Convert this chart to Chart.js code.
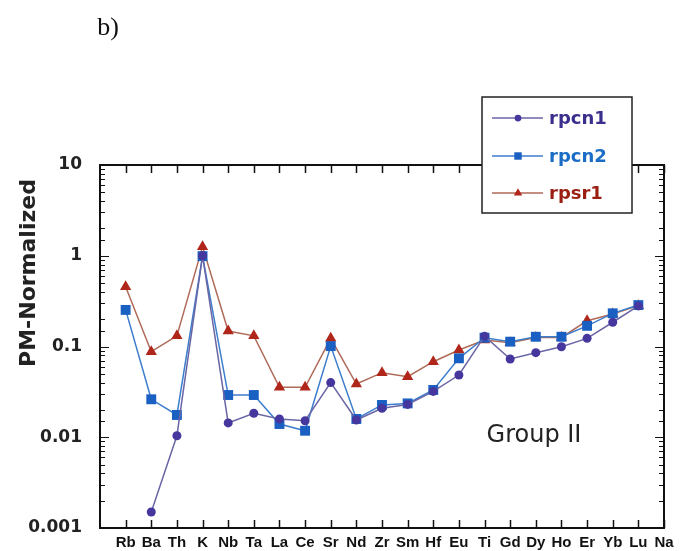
<!DOCTYPE html>
<html>
<head>
<meta charset="utf-8">
<script src="https://cdn.jsdelivr.net/npm/chart.js@4/dist/chart.umd.min.js"></script>
<style>
  html, body { margin: 0; padding: 0; background: #fff; }
  #wrap { width: 681px; height: 551px; }
</style>
</head>
<body>
<div id="wrap"><canvas id="spider"></canvas></div>
<script>
// element order along the x axis (Na sits on the right frame)
const elements = ["Rb", "Ba", "Th", "K", "Nb", "Ta", "La", "Ce", "Sr", "Nd", "Zr",
  "Sm", "Hf", "Eu", "Ti", "Gd", "Dy", "Ho", "Er", "Yb", "Lu", "Na"];

const rpcn1 = [null, 0.0015, 0.0104, 1.0, 0.0144, 0.0184, 0.0159, 0.0152, 0.040, 0.0155, 0.0209,
  0.023, 0.032, 0.0485, 0.13, 0.0728, 0.0855, 0.0995, 0.123, 0.185, 0.28, null];
const rpcn2 = [0.253, 0.0262, 0.0176, 0.99, 0.0292, 0.0292, 0.014, 0.0118, 0.101, 0.0159, 0.0227,
  0.0236, 0.0332, 0.0741, 0.125, 0.113, 0.128, 0.128, 0.169, 0.232, 0.286, null];
const rpsr1 = [0.456, 0.0877, 0.131, 1.26, 0.148, 0.131, 0.0355, 0.0355, 0.123, 0.0386, 0.0515,
  0.0464, 0.068, 0.0914, 0.118, 0.110, 0.126, 0.126, 0.192, 0.228, 0.282, null];

const seriesNames = ["rpcn1", "rpcn2", "rpsr1"];
const yTickLabels = { "-3": "0.001", "-2": "0.01", "-1": "0.1", "0": "1", "1": "10" };

const toPoints = arr => arr.map((v, i) => ({ x: i, y: v }));

const lineCol = ["#6a66a6", "#3c7dcc", "#b06a58"];
const markCol = ["#46379e", "#1a5fc2", "#b0261a"];
const textCol = ["#3a2f8c", "#1a6cc4", "#9a1f12"];

// frame, inward ticks, legend box and free text
const decor = {
  id: "decor",
  afterDraw(chart) {
    const ctx = chart.ctx;
    const a = chart.chartArea;
    const xs = chart.scales.x, ys = chart.scales.y;
    ctx.save();
    ctx.strokeStyle = "#111";
    ctx.lineWidth = 1.5;

    // x ticks, top and bottom, pointing inward
    for (let i = 0; i < elements.length; i++) {
      const px = Math.round(xs.getPixelForValue(i)) + 0.5;
      ctx.beginPath();
      ctx.moveTo(px, a.bottom); ctx.lineTo(px, a.bottom - 8);
      ctx.moveTo(px, a.top); ctx.lineTo(px, a.top + 8);
      ctx.stroke();
    }
    // y ticks on both sides, major longer than minor
    ctx.lineWidth = 1;
    ys.ticks.forEach(t => {
      const lg = Math.log10(t.value);
      const major = Math.abs(lg - Math.round(lg)) < 1e-6;
      const len = major ? 9 : 5;
      const py = Math.round(ys.getPixelForValue(t.value)) + 0.5;
      ctx.beginPath();
      ctx.moveTo(a.left, py); ctx.lineTo(a.left + len, py);
      ctx.moveTo(a.right, py); ctx.lineTo(a.right - len, py);
      ctx.stroke();
    });
    // frame
    ctx.lineWidth = 2;
    ctx.strokeRect(a.left, a.top, a.right - a.left, a.bottom - a.top);

    // legend box
    const bx = 482, by = 97, bw = 150, bh = 116;
    ctx.fillStyle = "#fff";
    ctx.fillRect(bx, by, bw, bh);
    ctx.lineWidth = 1.5;
    ctx.strokeStyle = "#222";
    ctx.strokeRect(bx, by, bw, bh);
    const rows = [118, 156, 193];
    chart.data.datasets.forEach((ds, i) => {
      const y = rows[i];
      ctx.strokeStyle = ds.borderColor;
      ctx.lineWidth = 1.5;
      ctx.beginPath();
      ctx.moveTo(492, y); ctx.lineTo(543, y);
      ctx.stroke();
      ctx.fillStyle = ds.pointBackgroundColor;
      ctx.strokeStyle = ds.pointBorderColor;
      Chart.helpers.drawPoint(ctx, { pointStyle: ds.pointStyle, radius: ds.pointRadius * 0.75, rotation: 0, borderWidth: 0 }, 518, y);
      ctx.fillStyle = textCol[i];
      ctx.font = "bold 18px 'DejaVu Sans'";
      ctx.textAlign = "left";
      ctx.textBaseline = "middle";
      ctx.fillText(ds.label, 549, y + 1);
    });

    // axis title
    ctx.save();
    ctx.translate(29, 273);
    ctx.rotate(-Math.PI / 2);
    ctx.fillStyle = "#222";
    ctx.font = "bold 22px 'DejaVu Sans'";
    ctx.textAlign = "center";
    ctx.textBaseline = "middle";
    ctx.fillText("PM-Normalized", 0, 0);
    ctx.restore();

    // annotation and panel letter
    ctx.fillStyle = "#222";
    ctx.font = "24px 'DejaVu Sans'";
    ctx.textAlign = "center";
    ctx.textBaseline = "middle";
    ctx.fillText("Group II", 534, 436);
    ctx.fillStyle = "#111";
    ctx.font = "26px 'Liberation Serif'";
    ctx.fillText("b)", 108, 28);
    ctx.restore();
  }
};

const styles = ["circle", "rect", "triangle"];
const radii = [4.5, 7, 6.5];

new Chart(document.getElementById("spider"), {
  type: "line",
  data: {
    datasets: [rpcn1, rpcn2, rpsr1].map((vals, i) => ({
      label: seriesNames[i],
      data: toPoints(vals),
      borderColor: lineCol[i],
      borderWidth: 1.5,
      pointStyle: styles[i],
      pointRadius: radii[i],
      pointBackgroundColor: markCol[i],
      pointBorderColor: markCol[i],
      pointBorderWidth: 0,
      spanGaps: false,
      tension: 0
    }))
  },
  options: {
    responsive: true,
    maintainAspectRatio: false,
    animation: false,
    layout: { padding: { top: 165, right: 17, left: 0, bottom: 0 } },
    plugins: { legend: { display: false }, tooltip: { enabled: false } },
    scales: {
      x: {
        type: "linear",
        min: -1,
        max: 21,
        grid: { display: false, drawTicks: false },
        border: { display: false },
        afterFit(scale) { scale.height = 23; },
        ticks: {
          stepSize: 1,
          autoSkip: false,
          maxRotation: 0,
          padding: 6,
          color: "#111",
          font: { family: "'Liberation Sans'", size: 15, weight: "bold" },
          callback: v => (v >= 0 && v < elements.length ? elements[v] : "")
        }
      },
      y: {
        type: "logarithmic",
        min: 0.001,
        max: 10,
        grid: { display: false, drawTicks: false },
        border: { display: false },
        afterFit(scale) {
          scale.width = 100;
          scale.paddingTop = 0;
          scale.paddingBottom = 0;
        },
        ticks: {
          autoSkip: false,
          padding: 18,
          color: "#222",
          font: { family: "'DejaVu Sans'", size: 17, weight: "bold" },
          callback: v => {
            const lg = Math.log10(v);
            return Math.abs(lg - Math.round(lg)) < 1e-6 ? yTickLabels[String(Math.round(lg))] : "";
          }
        }
      }
    }
  },
  plugins: [decor]
});
</script>
</body>
</html>
